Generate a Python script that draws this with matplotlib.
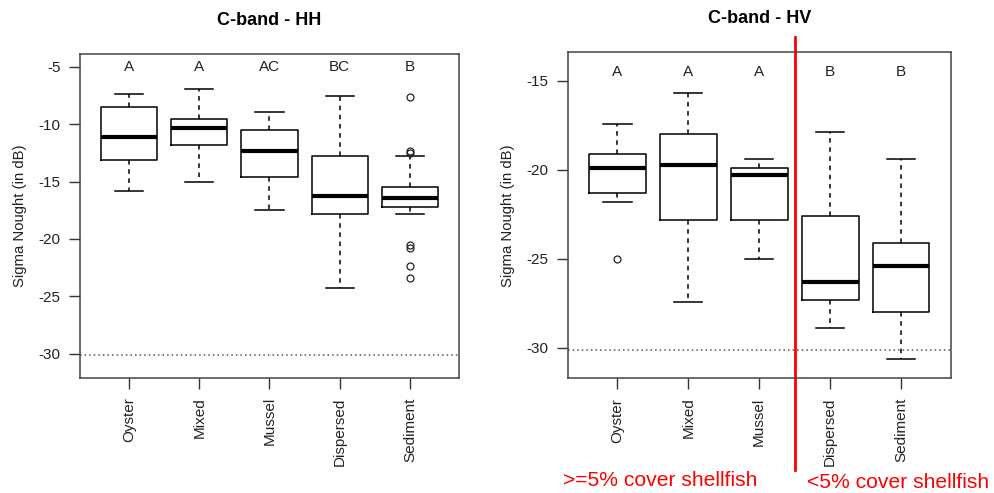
import matplotlib
matplotlib.use("Agg")
import matplotlib.pyplot as plt
import numpy as np

plt.rcParams['font.family'] = ['Liberation Sans', 'DejaVu Sans']

categories = ['Oyster', 'Mixed', 'Mussel', 'Dispersed', 'Sediment']

# C-band HH
hh_whishi = [-7.4, -6.9, -8.9, -7.5, -12.8]
hh_q3 = [-8.5, -9.5, -10.5, -12.8, -15.45]
hh_med = [-11.1, -10.3, -12.3, -16.3, -16.4]
hh_q1 = [-13.1, -11.8, -14.6, -17.8, -17.2]
hh_whislo = [-15.8, -15.0, -17.5, -24.3, -17.8]
hh_fliers = [[], [], [], [], [-7.6, -12.35, -12.5, -20.5, -20.8, -22.4, -23.4]]
hh_letters = ['A', 'A', 'AC', 'BC', 'B']

# C-band HV
hv_whishi = [-17.4, -15.7, -19.4, -17.9, -19.4]
hv_q3 = [-19.1, -18.0, -19.9, -22.6, -24.1]
hv_med = [-19.9, -19.7, -20.3, -26.3, -25.4]
hv_q1 = [-21.3, -22.8, -22.8, -27.3, -28.0]
hv_whislo = [-21.8, -27.4, -25.0, -28.9, -30.6]
hv_fliers = [[-25.0], [], [], [], []]
hv_letters = ['A', 'A', 'A', 'B', 'B']

noise_floor = -30.1


def draw_panel(ax, whishi, q3, med, q1, whislo, fliers, letters, letter_y,
               title, ylim, yticks):
    stats = []
    for i in range(len(categories)):
        stats.append(dict(med=med[i], q1=q1[i], q3=q3[i],
                          whislo=whislo[i], whishi=whishi[i],
                          fliers=fliers[i]))
    pos = np.arange(1, len(categories) + 1)
    ax.bxp(stats, positions=pos, widths=0.8, capwidths=0.4,
           showfliers=True,
           boxprops=dict(color='black', linewidth=1.1),
           medianprops=dict(color='black', linewidth=3, solid_capstyle='butt'),
           whiskerprops=dict(color='black', linewidth=1.1, linestyle=(0, (3, 3))),
           capprops=dict(color='black', linewidth=1.1),
           flierprops=dict(marker='o', markersize=5, markerfacecolor='none',
                           markeredgecolor='#222222', markeredgewidth=0.9))
    ax.axhline(noise_floor, color='#555555', linestyle=(0, (1, 2)), linewidth=1.1)
    for p, lab in zip(pos, letters):
        ax.text(p, letter_y, lab, ha='center', va='center', fontsize=11, color='#222222')
    ax.set_xlim(0.3, 5.7)
    ax.set_ylim(*ylim)
    ax.set_yticks(yticks)
    ax.set_yticklabels([str(t) for t in yticks], fontsize=11)
    ax.set_xticks(pos)
    ax.set_xticklabels(categories, rotation=90, fontsize=11)
    ax.tick_params(length=8, width=1, color='#333333', pad=6, labelcolor='#222222')
    for s in ax.spines.values():
        s.set_color('#444444')
        s.set_linewidth(1.1)
    ax.set_ylabel('Sigma Nought (in dB)', fontsize=10.7, color='#222222', labelpad=8)
    ax.set_title(title, fontsize=13, fontweight='bold', pad=21)


fig = plt.figure(figsize=(9.95, 4.93), dpi=100)
ax1 = fig.add_axes([0.0804, 0.2339, 0.3809, 0.656])
ax2 = fig.add_axes([0.5706, 0.2327, 0.3849, 0.6612])

draw_panel(ax1, hh_whishi, hh_q3, hh_med, hh_q1, hh_whislo, hh_fliers, hh_letters,
           -5.0, 'C-band - HH', (-32.1, -3.9), [-5, -10, -15, -20, -25, -30])
draw_panel(ax2, hv_whishi, hv_q3, hv_med, hv_q1, hv_whislo, hv_fliers, hv_letters,
           -14.5, 'C-band - HV', (-31.7, -13.4), [-15, -20, -25, -30])

# red separator between shellfish and non-shellfish classes
ax2.plot([3.5, 3.5], [1.047, -0.281], color='red', linewidth=2,
         transform=ax2.get_xaxis_transform(), clip_on=False)
fig.text(563 / 995, 1 - 480 / 493, '>=5% cover shellfish', color='red',
         fontsize=15.2, ha='left', va='center')
fig.text(807 / 995, 1 - 482 / 493, '<5% cover shellfish', color='red',
         fontsize=15.2, ha='left', va='center')

fig.savefig('out.png', dpi=100)
